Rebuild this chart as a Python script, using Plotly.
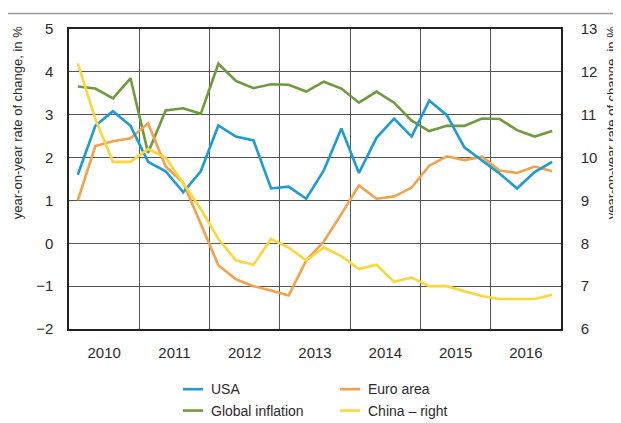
import plotly.graph_objects as go

years = [2010, 2011, 2012, 2013, 2014, 2015, 2016]
quarters = [1, 2, 3, 4]
year_labels = ["2010", "2011", "2012", "2013", "2014", "2015", "2016"]

usa = [1.60, 2.74, 3.08, 2.74,
       1.90, 1.68, 1.19, 1.68,
       2.75, 2.49, 2.40, 1.28,
       1.32, 1.04, 1.70, 2.68,
       1.64, 2.46, 2.91, 2.49,
       3.33, 2.99, 2.24, 1.94,
       1.63, 1.28, 1.66, 1.90]
euro = [1.00, 2.27, 2.38, 2.45,
        2.80, 1.79, 1.41, 0.45,
        -0.51, -0.84, -1.00, -1.10,
        -1.22, -0.40, 0.04, 0.68,
        1.35, 1.04, 1.09, 1.30,
        1.81, 2.03, 1.94, 2.02,
        1.70, 1.64, 1.79, 1.68]
global_infl = [3.66, 3.61, 3.38, 3.85,
               2.11, 3.10, 3.15, 3.02,
               4.19, 3.79, 3.62, 3.71,
               3.70, 3.54, 3.77, 3.61,
               3.28, 3.54, 3.28, 2.86,
               2.62, 2.74, 2.74, 2.91,
               2.90, 2.64, 2.49, 2.62]
china = [12.2, 10.9, 9.9, 9.9,
         10.2, 10.0, 9.4, 8.8,
         8.1, 7.6, 7.5, 8.1,
         7.9, 7.6, 7.9, 7.7,
         7.4, 7.5, 7.1, 7.2,
         7.0, 7.0, 6.88, 6.77,
         6.7, 6.7, 6.7, 6.8]

names = ["USA", "Euro area", "Global inflation", "China \u2013 right"]
colors = ["#1b9bd7", "#f7a04a", "#6f9a3d", "#fdd63a"]

x = [y + (q - 0.5) / 4 for y in years for q in quarters]

FONT = "Liberation Sans Narrow, Arial Narrow, Liberation Sans, Arial, sans-serif"
TXT = "#2b2b2b"
GRID = "#555555"

# the page places the figure 8px from the top-left corner
OFF = 8
W, H = 621 - OFF, 423 - OFF
# plot area in page pixels: x 69..561, y 20..329
ML, MR, MT, MB = 69 - OFF, W - (561 - OFF), 20 - OFF, H - (329 - OFF)
PW, PH = W - ML - MR, H - MT - MB


def px(xp):
    return (xp - OFF - ML) / PW


def py(yp):
    return (H - MB - (yp - OFF)) / PH


fig = go.Figure()
fig.add_trace(go.Scatter(x=x, y=global_infl, mode="lines", name=names[2],
                         line=dict(color=colors[2], width=2.6), showlegend=False))
fig.add_trace(go.Scatter(x=x, y=euro, mode="lines", name=names[1],
                         line=dict(color=colors[1], width=2.6), showlegend=False))
fig.add_trace(go.Scatter(x=x, y=china, mode="lines", name=names[3], yaxis="y2",
                         line=dict(color=colors[3], width=2.6), showlegend=False))
fig.add_trace(go.Scatter(x=x, y=usa, mode="lines", name=names[0],
                         line=dict(color=colors[0], width=2.6), showlegend=False))

shapes = []
annotations = []

# top rule
shapes.append(dict(type="line", xref="paper", yref="paper",
                   x0=px(8), x1=px(621), y0=py(4), y1=py(4),
                   line=dict(color="#9a9a9a", width=1.5)))

# manual legend
legend_pos = [(183, 391, 0), (340, 391, 1), (183, 413, 2), (340, 413, 3)]
for lx, ly, i in legend_pos:
    shapes.append(dict(type="line", xref="paper", yref="paper",
                       x0=px(lx), x1=px(lx + 20), y0=py(ly), y1=py(ly),
                       line=dict(color=colors[i], width=2.6)))
    annotations.append(dict(xref="paper", yref="paper", x=px(lx + 26), y=py(ly),
                            text=names[i], showarrow=False, xanchor="left",
                            yanchor="middle", font=dict(family=FONT, size=14, color=TXT)))

# axis titles
annotations.append(dict(xref="paper", yref="paper", x=px(17), y=py(117),
                        text="year-on-year rate of change, in %", textangle=-90,
                        showarrow=False, xanchor="center", yanchor="middle",
                        font=dict(family=FONT, size=13, color=TXT)))
annotations.append(dict(xref="paper", yref="paper", x=px(611), y=py(117),
                        text="year-on-year rate of change, in %", textangle=-90,
                        showarrow=False, xanchor="center", yanchor="middle",
                        font=dict(family=FONT, size=13, color=TXT)))

fig.update_layout(
    width=W, height=H,
    margin=dict(l=ML, r=MR, t=MT, b=MB),
    paper_bgcolor="white", plot_bgcolor="white",
    font=dict(family=FONT, size=15, color=TXT),
    showlegend=False,
    shapes=shapes,
    annotations=annotations,
    xaxis=dict(range=[2010, 2017], tickvals=[y + 0.5 for y in years],
               ticktext=year_labels, showgrid=False, ticks="",
               ticklabelstandoff=9,
               showline=True, linecolor="#222222", linewidth=1.5, mirror=True,
               zeroline=False,
               minor=dict(tickvals=years[1:], showgrid=True,
                          gridcolor=GRID, gridwidth=1, ticks="")),
    yaxis=dict(range=[-2, 5], showgrid=True,
               gridcolor=GRID, gridwidth=1, zeroline=False, ticks="",
               ticklabelstandoff=11,
               tickvals=[-2, -1, 0, 1, 2, 3, 4, 5],
               ticktext=["\u22122", "\u22121", "0", "1", "2", "3", "4", "5"],
               showline=True, linecolor="#222222", linewidth=1.5),
    yaxis2=dict(range=[6, 13], dtick=1, overlaying="y", side="right",
                showgrid=False, zeroline=False, ticks="",
                ticklabelstandoff=15,
                showline=True, linecolor="#222222", linewidth=1.5),
)

fig.write_html("out.html")
